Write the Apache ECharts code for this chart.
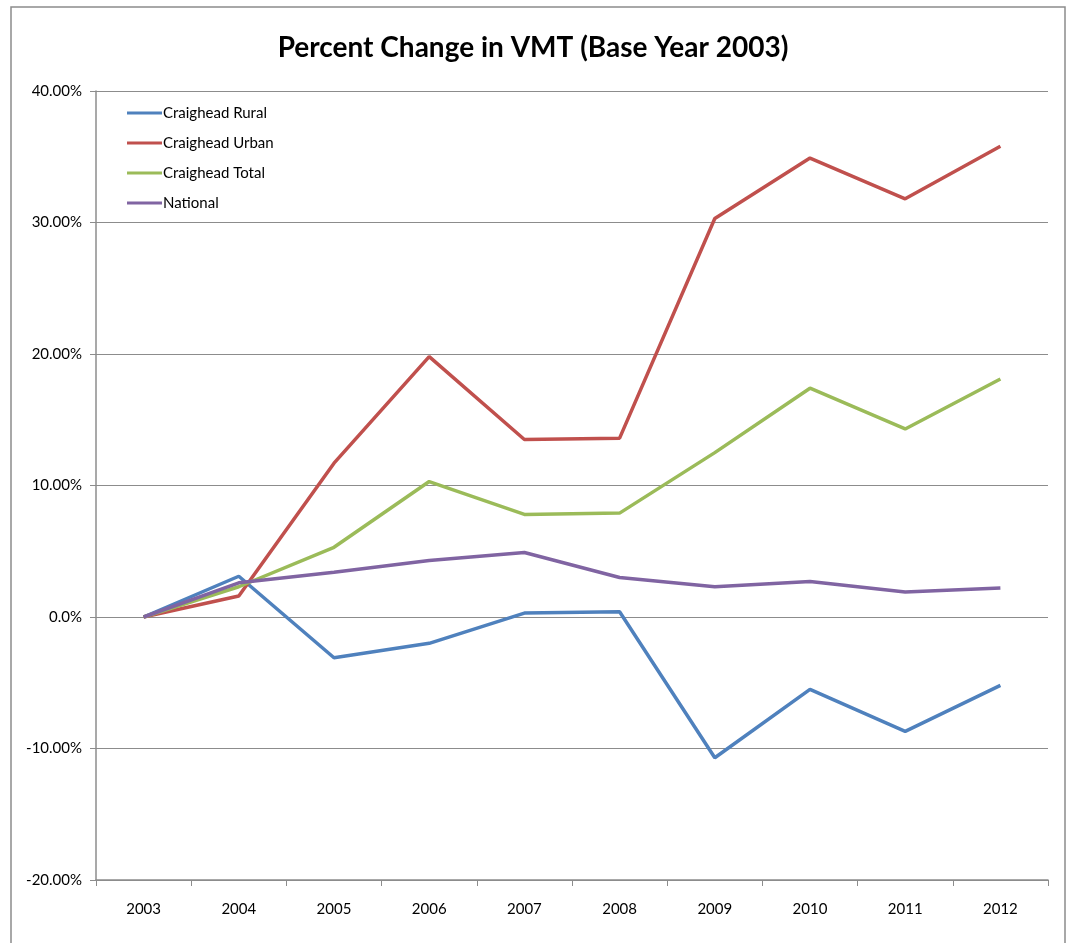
<!DOCTYPE html>
<html>
<head>
<meta charset="utf-8">
<script src="https://cdn.jsdelivr.net/npm/echarts@6/dist/echarts.min.js"></script>
<style>
  html, body { margin: 0; padding: 0; background: #fff; }
  #chart { width: 1066px; height: 943px; }
</style>
</head>
<body>
<div id="chart"></div>
<script>
// years on the x axis
const years = ['2003', '2004', '2005', '2006', '2007', '2008', '2009', '2010', '2011', '2012']
// percent change vs 2003
const rural = [0, 3.1, -3.1, -2.0, 0.3, 0.4, -10.7, -5.5, -8.7, -5.2]
const urban = [0, 1.6, 11.7, 19.8, 13.5, 13.6, 30.3, 34.9, 31.8, 35.8]
const total = [0, 2.3, 5.3, 10.3, 7.8, 7.9, 12.5, 17.4, 14.3, 18.1]
const national = [0, 2.6, 3.4, 4.3, 4.9, 3.0, 2.3, 2.7, 1.9, 2.2]
// y tick labels as printed on the chart
const yTickLabels = { '40': '40.00%', '30': '30.00%', '20': '20.00%', '10': '10.00%', '0': '0.0%', '-10': '-10.00%', '-20': '-20.00%' }

const font = 'Lato'
const chart = echarts.init(document.getElementById('chart'))

function line(name, data, color) {
    return {
        name: name,
        type: 'line',
        data: data,
        symbol: 'none',
        lineStyle: { color: color, width: 3.5 },
        itemStyle: { color: color },
        animation: false
    }
}

chart.setOption({
    backgroundColor: '#fff',
    animation: false,
    graphic: [{
        type: 'rect',
        shape: { x: 11, y: 7, width: 1054, height: 960 },
        style: { fill: 'none', stroke: '#8c8c8c', lineWidth: 1.5 },
        silent: true
    }],
    title: {
        text: 'Percent Change in VMT (Base Year 2003)',
        left: 'center',
        top: 29,
        textStyle: { fontFamily: font, fontWeight: 'bold', fontSize: 28, color: '#000' }
    },
    legend: {
        orient: 'vertical',
        left: 122,
        top: 100,
        icon: 'rect',
        itemWidth: 35,
        itemHeight: 3,
        itemGap: 14,
        textStyle: { fontFamily: font, fontSize: 15, lineHeight: 16, color: '#000', padding: [0, 0, 0, -4] },
        data: ['Craighead Rural', 'Craighead Urban', 'Craighead Total', 'National']
    },
    grid: { left: 96, right: 18, top: 91, bottom: 63 },
    xAxis: {
        type: 'category',
        data: years,
        boundaryGap: true,
        axisLine: { onZero: false, lineStyle: { color: '#8c8c8c', width: 1.5 } },
        axisTick: { show: true, length: 6, lineStyle: { color: '#8c8c8c' } },
        axisLabel: { fontFamily: font, fontSize: 15, color: '#000', margin: 22 }
    },
    yAxis: {
        type: 'value',
        min: -20,
        max: 40,
        interval: 10,
        axisLine: { show: true, lineStyle: { color: '#8c8c8c', width: 1.5 } },
        axisTick: { show: true, length: 6, lineStyle: { color: '#8c8c8c' } },
        axisLabel: {
            fontFamily: font, fontSize: 15, color: '#000', margin: 14,
            formatter: v => yTickLabels[String(v)]
        },
        splitLine: { lineStyle: { color: '#8c8c8c', width: 1.2 } }
    },
    series: [
        line('Craighead Rural', rural, '#4f81bd'),
        line('Craighead Urban', urban, '#c0504d'),
        line('Craighead Total', total, '#9bbb59'),
        line('National', national, '#8064a2')
    ]
})
</script>
</body>
</html>
